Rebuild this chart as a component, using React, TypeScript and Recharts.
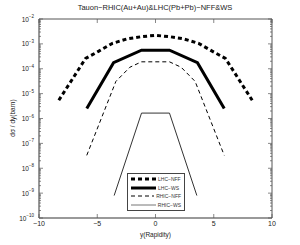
import { LineChart, Line, XAxis, YAxis } from 'recharts'

// rapidity points and dσ/dy (barn) per curve
const lhcNffX = [-8.3, -6, -4.9, -3.7, -2.4, -1.2, 0, 1.2, 2.4, 3.7, 4.9, 6, 8.3]
const lhcNffY = [5.4e-6, 2.6e-4, 5e-4, 1.05e-3, 1.6e-3, 1.95e-3, 2.2e-3, 1.95e-3, 1.6e-3, 1.05e-3, 5e-4, 2.6e-4, 5.4e-6]
const lhcWsX = [-5.9, -3.6, -1.2, 1.2, 3.6, 5.9]
const lhcWsY = [2.5e-6, 1.75e-4, 5.6e-4, 5.6e-4, 1.75e-4, 2.5e-6]
const rhicNffX = [-5.9, -3.4, -2.2, -1.2, 1.2, 2.2, 3.4, 5.9]
const rhicNffY = [3.3e-8, 3.1e-5, 1.15e-4, 1.9e-4, 1.9e-4, 1.15e-4, 3.1e-5, 3.3e-8]
const rhicWsX = [-3.55, -1.2, 1.2, 3.55]
const rhicWsY = [8e-10, 1.65e-6, 1.65e-6, 8e-10]

const xTicks = [-10, -5, 0, 5, 10]
const decades = [-10, -9, -8, -7, -6, -5, -4, -3, -2]
const yTicks: number[] = []
decades.forEach(d => {
  for (let m = 1; m <= 9; m++) {
    if (d === -2 && m > 1) break
    yTicks.push(Number((m * Math.pow(10, d)).toPrecision(3)))
  }
})

const toRows = (xs: number[], ys: number[]) => xs.map((x, i) => ({ x, y: ys[i] }))

const series = [
  { name: 'LHC\u2212NFF', data: toRows(lhcNffX, lhcNffY), width: 3, dash: '4 3', color: '#000' },
  { name: 'LHC\u2212WS', data: toRows(lhcWsX, lhcWsY), width: 3, dash: undefined, color: '#000' },
  { name: 'RHIC\u2212NFF', data: toRows(rhicNffX, rhicNffY), width: 1, dash: '4 3', color: '#000' },
  { name: 'RHIC\u2212WS', data: toRows(rhicWsX, rhicWsY), width: 1, dash: undefined, color: '#333' },
]

const font = '"Liberation Sans", Arial, sans-serif'
const axisColor = '#555'
// tick props arrive offset by tickSize + tickMargin (1 + 1)
const OFF = 2

function isMajor(v: number) {
  const l = Math.log10(v)
  return Math.abs(l - Math.round(l)) < 1e-6
}

function LeftTick(props: any) {
  const { x, y, payload } = props
  const ax = x + OFF
  const major = isMajor(payload.value)
  const exp = Math.round(Math.log10(payload.value))
  return (
    <g>
      <line x1={ax} x2={ax + (major ? 4 : 2)} y1={y} y2={y} stroke={axisColor} strokeWidth={0.7} />
      {major && (
        <text x={ax - 5} y={y + 2.5} textAnchor="end" fontSize={6.5} fill="#222" fontFamily={font}>
          10<tspan dy={-3.5} fontSize={4.5}>{'\u2212' + Math.abs(exp)}</tspan>
        </text>
      )}
    </g>
  )
}

function RightTick(props: any) {
  const { x, y, payload } = props
  const ax = x - OFF
  const major = isMajor(payload.value)
  return <line x1={ax} x2={ax - (major ? 4 : 2)} y1={y} y2={y} stroke={axisColor} strokeWidth={0.7} />
}

function BottomTick(props: any) {
  const { x, y, payload } = props
  const ay = y - OFF
  const v = payload.value
  const label = v < 0 ? '\u2212' + Math.abs(v) : String(v)
  return (
    <g>
      <line x1={x} x2={x} y1={ay} y2={ay - 4} stroke={axisColor} strokeWidth={0.7} />
      <text x={x} y={ay + 8} textAnchor="middle" fontSize={7} fill="#222" fontFamily={font}>{label}</text>
    </g>
  )
}

function TopTick(props: any) {
  const { x, y } = props
  const ay = y + OFF
  return <line x1={x} x2={x} y1={ay} y2={ay + 4} stroke={axisColor} strokeWidth={0.7} />
}

function LegendBox() {
  return (
    <div style={{ position: 'absolute', left: 127, top: 173, background: '#fff', border: '1px solid #444', padding: '1px 3px', width: 50 }}>
      {series.map(s => (
        <div key={s.name} style={{ display: 'flex', alignItems: 'center', height: 8.5 }}>
          <svg width={25} height={6}>
            <line x1={0} x2={25} y1={3} y2={3} stroke={s.color === '#333' ? '#777' : s.color}
              strokeWidth={s.width} strokeDasharray={s.dash} />
          </svg>
          <span style={{ fontSize: 5, marginLeft: 2, color: '#333', fontFamily: font, whiteSpace: 'nowrap' }}>{s.name}</span>
        </div>
      ))}
    </div>
  )
}

export default function App() {
  return (
    <div style={{ position: 'absolute', left: 0, top: 0, width: 300, height: 245, background: '#fff', fontFamily: font }}>
      <div style={{ position: 'absolute', top: 3, left: 0, width: 310, textAlign: 'center', fontSize: 7.5, color: '#222' }}>
        Tauon{'\u2212'}RHIC(Au+Au)&amp;LHC(Pb+Pb){'\u2212'}NFF&amp;WS
      </div>
      <div style={{ position: 'absolute', left: 12, top: 118, transform: 'translate(-50%, -50%) rotate(-90deg)', fontSize: 6.5, color: '#222', whiteSpace: 'nowrap' }}>
        d{'\u03c3'} / dy(barn)
      </div>
      <LineChart width={300} height={245} margin={{ top: 14, right: 23, bottom: 7, left: 9 }}>
        <XAxis xAxisId="b" type="number" dataKey="x" domain={[-10, 10]} ticks={xTicks} interval={0}
          height={20} tickSize={1} tickMargin={1} tickLine={false} tick={<BottomTick />}
          axisLine={{ stroke: '#777', strokeWidth: 1.5 }} allowDataOverflow
          label={{ value: 'y(Rapidity)', position: 'insideBottom', offset: 1, fontSize: 6.5, fill: '#222', fontFamily: font }} />
        <XAxis xAxisId="t" orientation="top" type="number" dataKey="x" domain={[-10, 10]} ticks={xTicks} interval={0}
          height={5} tickSize={1} tickMargin={1} tickLine={false} tick={<TopTick />}
          axisLine={{ stroke: axisColor, strokeWidth: 1 }} allowDataOverflow />
        <YAxis yAxisId="l" scale="log" type="number" domain={[1e-10, 1e-2]} ticks={yTicks} interval={0}
          width={30} tickSize={1} tickMargin={1} tickLine={false} tick={<LeftTick />}
          axisLine={{ stroke: '#777', strokeWidth: 1.5 }} allowDataOverflow />
        <YAxis yAxisId="r" orientation="right" scale="log" type="number" domain={[1e-10, 1e-2]} ticks={yTicks} interval={0}
          width={5} tickSize={1} tickMargin={1} tickLine={false} tick={<RightTick />}
          axisLine={{ stroke: axisColor, strokeWidth: 1 }} allowDataOverflow />
        {series.map(s => (
          <Line key={s.name} xAxisId="b" yAxisId="l" data={s.data} dataKey="y" name={s.name}
            stroke={s.color} strokeWidth={s.width} strokeDasharray={s.dash}
            dot={false} isAnimationActive={false} type="linear" />
        ))}
      </LineChart>
      <LegendBox />
    </div>
  )
}
